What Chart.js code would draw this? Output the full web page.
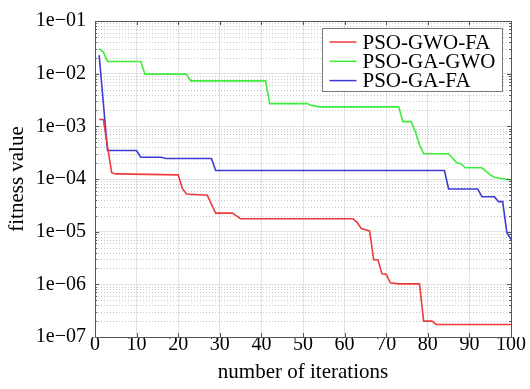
<!DOCTYPE html>
<html>
<head>
<meta charset="utf-8">
<script src="https://cdn.jsdelivr.net/npm/chart.js@4.4.1/dist/chart.umd.min.js"></script>
<style>
  html, body { margin: 0; padding: 0; background: #fff; }
  canvas { display: block; }
</style>
</head>
<body>
<canvas id="chart" width="530" height="389"></canvas>
<script>
// --- Data (breakpoints of each convergence curve) ---
const seriesLabels = ['PSO-GWO-FA', 'PSO-GA-GWO', 'PSO-GA-FA'];
const seriesColors = ['#ee3b3b', '#3dec3d', '#3b3bd6'];

const redIter = [1, 2, 4, 5, 20, 21, 22, 27, 29, 33, 35, 62, 63, 64, 66, 67, 68, 69, 70, 71, 73, 78, 79, 81, 82, 100];
const redVal  = [1.35e-3, 1.35e-3, 1.32e-4, 1.25e-4, 1.2e-4, 6.6e-5, 5.2e-5, 4.9e-5, 2.25e-5, 2.25e-5, 1.76e-5,
                 1.76e-5, 1.5e-5, 1.15e-5, 1.03e-5, 2.93e-6, 2.93e-6, 1.58e-6, 1.55e-6, 1.07e-6, 1.02e-6, 1.02e-6,
                 2.0e-7, 2.0e-7, 1.73e-7, 1.73e-7];

const greenIter = [1, 2, 3, 11, 12, 22, 23, 41, 42, 51, 52, 54, 73, 74, 76, 77, 78, 79, 85, 87, 88, 89, 93, 95, 96, 100];
const greenVal  = [0.0295, 0.026, 0.017, 0.017, 0.0098, 0.0098, 0.0073, 0.0073, 0.0027, 0.0027, 0.0025, 0.00234,
                   0.00234, 0.00123, 0.00123, 0.0008, 0.00045, 0.000302, 0.000302, 0.000202, 0.000195, 0.000163,
                   0.000163, 0.00012, 0.000108, 0.0000955];

const blueIter = [1, 2, 3, 10, 11, 16, 17, 28, 29, 84, 85, 92, 93, 96, 97, 98, 99, 100];
const blueVal  = [0.0224, 0.0028, 0.000347, 0.000347, 0.000258, 0.000258, 0.000245, 0.000245, 0.000145, 0.000145,
                  0.0000646, 0.0000646, 0.0000461, 0.0000461, 0.0000372, 0.0000372, 0.0000096, 0.0000071];

const xTicks = [0, 10, 20, 30, 40, 50, 60, 70, 80, 90, 100];
const yExponents = [-7, -6, -5, -4, -3, -2, -1];

const FONT = 'Liberation Serif, Times New Roman, serif';

function toPoints(iters, vals) {
    return iters.map((it, i) => ({ x: it, y: vals[i] }));
}

function expLabel(v) {
    const e = Math.round(Math.log10(v));
    return '1e' + (e < 0 ? '\u2212' : '+') + String(Math.abs(e)).padStart(2, '0');
}

// --- Minor grid, frame, ticks and legend ---
const matlabPlugin = {
    id: 'matlab',
    beforeDatasetsDraw(chart) {
        const { ctx, chartArea: a, scales: { y } } = chart;
        ctx.save();
        ctx.strokeStyle = '#c8c8c8';
        ctx.lineWidth = 1;
        ctx.setLineDash([1, 2]);
        yExponents.slice(0, -1).forEach(e => {
            for (let k = 2; k <= 9; k++) {
                const py = Math.round(y.getPixelForValue(k * Math.pow(10, e))) + 0.5;
                ctx.beginPath();
                ctx.moveTo(a.left, py);
                ctx.lineTo(a.right, py);
                ctx.stroke();
            }
        });
        ctx.restore();
    },
    afterDraw(chart) {
        const { ctx, chartArea: a, scales: { x, y } } = chart;
        ctx.save();
        ctx.strokeStyle = '#555';
        ctx.lineWidth = 1;

        // ticks
        ctx.beginPath();
        xTicks.forEach(t => {
            const px = Math.round(x.getPixelForValue(t)) + 0.5;
            ctx.moveTo(px, a.bottom); ctx.lineTo(px, a.bottom - 4);
            ctx.moveTo(px, a.top);    ctx.lineTo(px, a.top + 4);
        });
        yExponents.forEach(e => {
            const py = Math.round(y.getPixelForValue(Math.pow(10, e))) + 0.5;
            ctx.moveTo(a.left, py);  ctx.lineTo(a.left + 4, py);
            ctx.moveTo(a.right, py); ctx.lineTo(a.right - 4, py);
            if (e < -1) {
                for (let k = 2; k <= 9; k++) {
                    const pm = Math.round(y.getPixelForValue(k * Math.pow(10, e))) + 0.5;
                    ctx.moveTo(a.left, pm);  ctx.lineTo(a.left + 2, pm);
                    ctx.moveTo(a.right, pm); ctx.lineTo(a.right - 2, pm);
                }
            }
        });
        ctx.stroke();

        // frame
        ctx.strokeRect(Math.round(a.left) + 0.5, Math.round(a.top) + 0.5,
                       Math.round(a.right - a.left), Math.round(a.bottom - a.top));

        // legend
        ctx.font = '21px ' + FONT;
        const textW = Math.max(...seriesLabels.map(l => ctx.measureText(l).width));
        const boxW = 40 + textW + 7;
        const boxH = 63;
        const bx = Math.round(a.right - 9 - boxW) + 0.5;
        const by = Math.round(a.top + 7) + 0.5;
        ctx.fillStyle = '#fff';
        ctx.fillRect(bx, by, boxW, boxH);
        ctx.strokeStyle = '#777';
        ctx.strokeRect(bx, by, boxW, boxH);
        ctx.textBaseline = 'middle';
        ctx.textAlign = 'left';
        seriesLabels.forEach((lbl, i) => {
            const ry = by + 13.5 + i * 19.3;
            ctx.strokeStyle = seriesColors[i];
            ctx.lineWidth = 1.5;
            ctx.beginPath();
            ctx.moveTo(bx + 7, ry);
            ctx.lineTo(bx + 34, ry);
            ctx.stroke();
            ctx.fillStyle = '#000';
            ctx.fillText(lbl, bx + 40, ry + 1);
        });
        ctx.restore();
    }
};

// --- Chart ---
const series = [toPoints(redIter, redVal), toPoints(greenIter, greenVal), toPoints(blueIter, blueVal)];

new Chart(document.getElementById('chart'), {
    type: 'line',
    data: {
        datasets: series.map((pts, i) => ({
            label: seriesLabels[i],
            data: pts,
            borderColor: seriesColors[i],
            backgroundColor: seriesColors[i],
            borderWidth: 1.6,
            pointRadius: 0,
            tension: 0,
            fill: false
        }))
    },
    options: {
        responsive: false,
        animation: false,
        layout: { padding: { left: 0, top: 16, right: 19, bottom: 0 } },
        plugins: {
            legend: { display: false },
            tooltip: { enabled: false }
        },
        scales: {
            x: {
                type: 'linear',
                min: 0,
                max: 100,
                afterBuildTicks: s => { s.ticks = xTicks.map(v => ({ value: v })); },
                afterFit: s => { s.height = 52; },
                grid: { color: '#e2e2e2', lineWidth: 1, drawTicks: false },
                border: { display: false },
                ticks: {
                    color: '#000',
                    font: { family: FONT, size: 20 },
                    padding: -4,
                    maxRotation: 0
                },
                title: {
                    display: true,
                    text: 'number of iterations',
                    color: '#000',
                    font: { family: FONT, size: 21 },
                    padding: { top: 0, bottom: 4 }
                }
            },
            y: {
                type: 'logarithmic',
                min: 1e-7,
                max: 1e-1,
                afterBuildTicks: s => { s.ticks = yExponents.map(e => ({ value: Math.pow(10, e) })); },
                afterFit: s => { s.width = 95; },
                grid: { color: '#e2e2e2', lineWidth: 1, drawTicks: false },
                border: { display: false },
                ticks: {
                    color: '#000',
                    font: { family: FONT, size: 20 },
                    padding: 9,
                    callback: v => expLabel(v)
                },
                title: {
                    display: true,
                    text: 'fitness value',
                    color: '#000',
                    font: { family: FONT, size: 21 },
                    padding: { top: 5, bottom: 0 }
                }
            }
        }
    },
    plugins: [matlabPlugin]
});
</script>
</body>
</html>
